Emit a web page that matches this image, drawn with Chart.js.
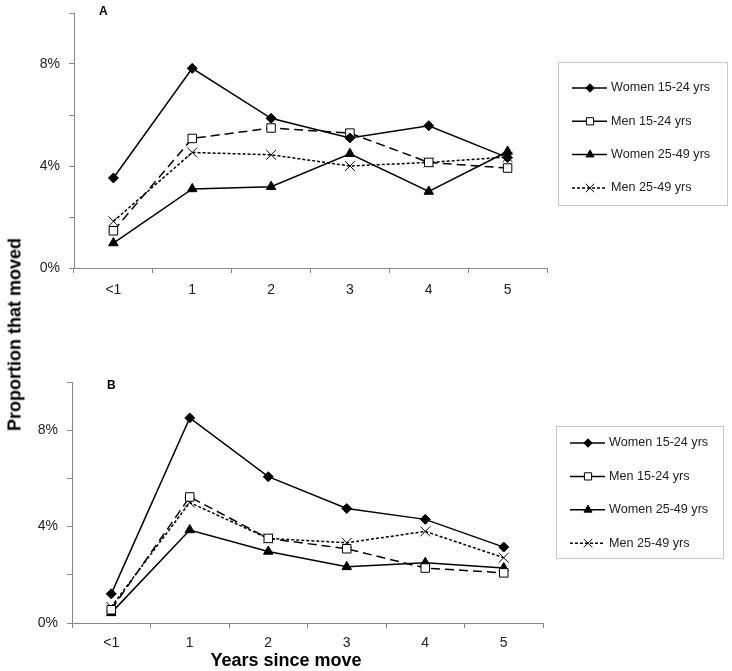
<!DOCTYPE html>
<html>
<head>
<meta charset="utf-8">
<script src="https://cdn.jsdelivr.net/npm/chart.js@4.4.1/dist/chart.umd.min.js"></script>
<style>
  body { margin: 0; background: #fff; }
  #wrap { position: relative; width: 732px; height: 671px; font-family: 'Liberation Sans', Arial, sans-serif; }
  #wrap canvas { position: absolute; left: 0; }
  #chartA { top: 0; }
  #chartB { top: 300px; }
  .lbl { position: absolute; font-weight: bold; color: #000; white-space: nowrap; }
</style>
</head>
<body>
<div id="wrap">
  <canvas id="chartA" width="732" height="300"></canvas>
  <canvas id="chartB" width="732" height="371"></canvas>
  <div class="lbl" style="left:99px; top:4px; font-size:12px;">A</div>
  <div class="lbl" style="left:107px; top:378px; font-size:12px;">B</div>
  <div class="lbl" style="left:-135px; top:324px; width:300px; text-align:center; font-size:18px; line-height:21px; transform:rotate(-90deg);">Proportion that moved</div>
  <div class="lbl" style="left:186px; top:650px; width:200px; text-align:center; font-size:18px; line-height:21px;">Years since move</div>
</div>
<script>
// categories and series, values in percent
const years = ['<1', '1', '2', '3', '4', '5'];
const seriesNames = ['Women 15-24 yrs', 'Men 15-24 yrs', 'Women 25-49 yrs', 'Men 25-49 yrs'];
const yLabelled = [0, 4, 8];

// panel A
const womenYoungA = [3.53, 7.83, 5.87, 5.10, 5.58, 4.33];
const menYoungA = [1.46, 5.08, 5.49, 5.29, 4.14, 3.92];
const womenOlderA = [0.98, 3.10, 3.19, 4.48, 3.00, 4.57];
const menOlderA = [1.83, 4.53, 4.44, 4.00, 4.14, 4.35];

// panel B
const womenYoungB = [1.21, 8.51, 6.07, 4.75, 4.30, 3.15];
const menYoungB = [0.55, 5.23, 3.51, 3.08, 2.28, 2.08];
const womenOlderB = [0.42, 3.86, 2.97, 2.33, 2.50, 2.28];
const menOlderB = [0.67, 5.00, 3.51, 3.33, 3.80, 2.71];

Chart.defaults.font.family = "'Liberation Sans', Arial, sans-serif";

const looks = [
  { pointStyle: 'rectRot', pointRadius: 5, borderDash: [], legendDash: [], bg: '#000' },
  { pointStyle: 'rect', pointRadius: 6, borderDash: [9, 5], legendDash: [], bg: '#fff' },
  { pointStyle: 'triangle', pointRadius: 5.5, borderDash: [], legendDash: [], bg: '#000' },
  { pointStyle: 'crossRot', pointRadius: 7, borderDash: [3, 2], legendDash: [3, 2], bg: '#000' }
];

function makeDatasets(series) {
  return series.map((vals, i) => ({
    label: seriesNames[i],
    data: vals,
    borderColor: '#000',
    borderWidth: 1.5,
    borderDash: looks[i].borderDash,
    pointStyle: looks[i].pointStyle,
    pointRadius: looks[i].pointRadius,
    pointBackgroundColor: looks[i].bg,
    pointBorderColor: '#000',
    pointBorderWidth: 1,
    tension: 0
  }));
}

// legend with line + marker samples inside a grey box
const boxLegend = {
  id: 'boxLegend',
  afterDraw(chart, args, opts) {
    const ctx = chart.ctx;
    ctx.save();
    ctx.strokeStyle = '#c8c8c8';
    ctx.lineWidth = 1;
    ctx.strokeRect(opts.x + 0.5, opts.y + 0.5, opts.w, opts.h);
    chart.data.datasets.forEach((ds, i) => {
      const y = opts.firstY + i * opts.step;
      ctx.strokeStyle = '#000';
      ctx.lineWidth = 1.5;
      ctx.setLineDash(looks[i].legendDash);
      ctx.beginPath();
      ctx.moveTo(opts.x + 14, y);
      ctx.lineTo(opts.x + 49, y);
      ctx.stroke();
      ctx.setLineDash([]);
      ctx.fillStyle = ds.pointBackgroundColor;
      ctx.lineWidth = 1;
      Chart.helpers.drawPoint(ctx, {
        pointStyle: ds.pointStyle,
        radius: ds.pointRadius * 0.85,
        rotation: 0,
        borderWidth: 1
      }, opts.x + 32, y);
      ctx.fillStyle = '#222';
      ctx.font = "12.6px 'Liberation Sans', Arial, sans-serif";
      ctx.textBaseline = 'middle';
      ctx.textAlign = 'left';
      ctx.fillText(ds.label, opts.x + 53, y);
    });
    ctx.restore();
  }
};

function makeScales(yWidth, xHeight, labelPad) {
  return {
    x: {
      offset: true,
      grid: { offset: true, drawOnChartArea: false, tickLength: 5, color: '#868686' },
      border: { color: '#868686' },
      ticks: { color: '#222', font: { size: 14 }, padding: labelPad, maxRotation: 0 },
      afterFit(s) { s.height = xHeight; }
    },
    y: {
      min: 0,
      max: 10,
      ticks: {
        stepSize: 2,
        color: '#222',
        font: { size: 14 },
        padding: 9,
        callback: v => yLabelled.includes(v) ? v + '%' : ''
      },
      grid: { drawOnChartArea: false, tickLength: 5, color: '#868686' },
      border: { color: '#868686' },
      afterFit(s) {
        s.width = yWidth;
        s.paddingTop = 0;
        s.paddingBottom = 0;
      }
    }
  };
}

function makeChart(id, series, pad, yWidth, xHeight, labelPad, legendBox) {
  return new Chart(document.getElementById(id), {
    type: 'line',
    data: { labels: years, datasets: makeDatasets(series) },
    options: {
      responsive: false,
      animation: false,
      layout: { padding: pad },
      plugins: {
        legend: { display: false },
        tooltip: { enabled: false },
        boxLegend: legendBox
      },
      scales: makeScales(yWidth, xHeight, labelPad)
    },
    plugins: [boxLegend]
  });
}

makeChart('chartA', [womenYoungA, menYoungA, womenOlderA, menOlderA],
  { left: 0, top: 13, right: 185, bottom: 0 }, 74, 32, 9,
  { x: 558, y: 62, w: 169, h: 143, firstY: 88, step: 33.3 });

makeChart('chartB', [womenYoungB, menYoungB, womenOlderB, menOlderB],
  { left: 0, top: 82, right: 189, bottom: 0 }, 72, 48, 7,
  { x: 556, y: 126, w: 167, h: 132, firstY: 143, step: 33.4 });
</script>
</body>
</html>
